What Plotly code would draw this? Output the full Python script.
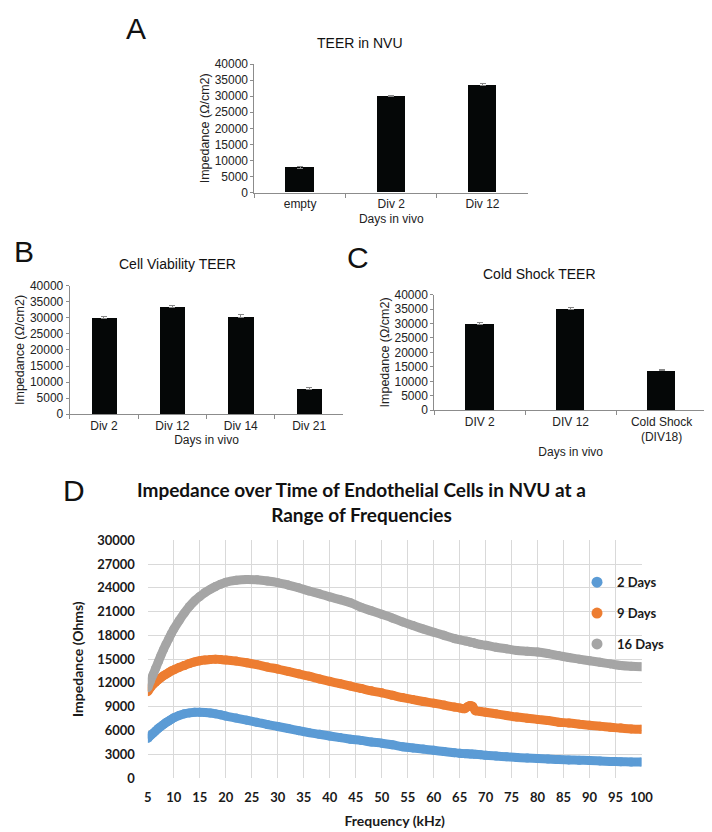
"""Four-panel TEER / impedance figure (A-C bar charts, D frequency sweep)."""

import plotly.graph_objects as go

# ---- data -----------------------------------------------------------------
A_CATS = ["empty", "Div 2", "Div 12"]
A_VALS = [7800, 30000, 33500]
A_ERR = [200, 250, 300]

B_CATS = ["Div 2", "Div 12", "Div 14", "Div 21"]
B_VALS = [30000, 33500, 30500, 8000]
B_ERR = [300, 300, 500, 250]

C_CATS = ["DIV 2", "DIV 12", "Cold Shock<br>(DIV18)"]
C_VALS = [30000, 35300, 13900]
C_ERR = [350, 350, 300]

FREQ_KHZ = [5, 5.5, 6, 6.5, 7, 7.5, 8, 8.5, 9, 9.5, 10, 11, 12, 13, 14, 15, 16,
            17, 18, 19, 20, 22, 24, 26, 28, 30, 32, 34, 36, 38, 40, 42, 44, 46,
            48, 50, 52, 54, 56, 58, 60, 62, 64, 65, 66, 66.5, 67, 67.5, 68, 69,
            70, 72, 74, 76, 78, 80, 82, 84, 86, 88, 90, 92, 94, 96, 98, 100]

DAYS_2 = [5000, 5350, 5650, 5950, 6250, 6500, 6750, 7000, 7200, 7400, 7600,
          7900, 8100, 8220, 8300, 8300, 8260, 8200, 8100, 7980, 7820, 7560,
          7300, 7030, 6750, 6500, 6250, 5980, 5730, 5520, 5300, 5100, 4900,
          4750, 4550, 4400, 4200, 3950, 3800, 3650, 3500, 3350, 3200, 3130,
          3080, 3060, 3040, 3020, 3000, 2950, 2880, 2780, 2680, 2580, 2520,
          2470, 2400, 2330, 2290, 2250, 2220, 2160, 2100, 2060, 2030, 2010]

DAYS_9 = [10900, 11400, 11800, 12100, 12400, 12650, 12900, 13100, 13300,
          13500, 13650, 13950, 14200, 14450, 14650, 14800, 14900, 14950,
          15000, 14950, 14900, 14750, 14550, 14300, 14000, 13750, 13450,
          13150, 12850, 12500, 12200, 11900, 11600, 11300, 11000, 10750,
          10450, 10150, 9900, 9650, 9450, 9200, 8950, 8850, 8750, 9000, 9150,
          9050, 8500, 8400, 8300, 8100, 7900, 7700, 7550, 7400, 7250, 7050,
          6950, 6800, 6650, 6550, 6400, 6300, 6200, 6150]

DAYS_16 = [11400, 12250, 13050, 13850, 14650, 15450, 16200, 16900, 17550,
           18200, 18800, 19850, 20800, 21650, 22350, 22900, 23400, 23800,
           24150, 24450, 24700, 24950, 25050, 25000, 24850, 24650, 24350,
           24000, 23600, 23250, 22850, 22500, 22100, 21550, 21100, 20650,
           20200, 19700, 19250, 18800, 18400, 18000, 17600, 17450, 17300,
           17250, 17150, 17100, 17000, 16850, 16750, 16500, 16300, 16100,
           16000, 15900, 15700, 15450, 15200, 15000, 14800, 14600, 14400,
           14200, 14100, 14050]

SERIES = [("2 Days", DAYS_2, "#5b9bd5"),
          ("9 Days", DAYS_9, "#ed7d31"),
          ("16 Days", DAYS_16, "#a5a5a5")]

W, H = 712, 832
ARIAL = "Liberation Sans, Arial, sans-serif"
CALIBRI = "Lato, Open Sans, sans-serif"


def px_x(x0, x1):
    return [x0 / W, x1 / W]


def px_y(top, bottom):
    return [1 - bottom / H, 1 - top / H]


fig = go.Figure()

# ---- bar panels -----------------------------------------------------------
bar_panels = [
    ("x", "y", A_CATS, A_VALS, A_ERR, 0.31),
    ("x2", "y2", B_CATS, B_VALS, B_ERR, 0.37),
    ("x3", "y3", C_CATS, C_VALS, C_ERR, 0.31),
]
for xa, ya, cats, vals, errs, bw in bar_panels:
    fig.add_trace(go.Bar(
        x=cats, y=vals, xaxis=xa, yaxis=ya, width=bw,
        marker=dict(color="#050707", line=dict(width=0)),
        error_y=dict(type="data", array=errs, color="#888888",
                     thickness=1, width=3),
        showlegend=False,
    ))

# ---- frequency sweep ------------------------------------------------------
for name, vals, color in SERIES:
    fig.add_trace(go.Scatter(
        x=FREQ_KHZ, y=vals, xaxis="x4", yaxis="y4", mode="lines+markers",
        line=dict(color=color, width=9, shape="spline"),
        marker=dict(color=color, size=9),
        showlegend=False, hoverinfo="x+y",
    ))
for name, vals, color in SERIES:
    fig.add_trace(go.Scatter(
        x=[None], y=[None], xaxis="x4", yaxis="y4", mode="markers",
        marker=dict(color=color, size=11), name=name,
        legendgroup=name,
    ))

bar_x = dict(
    type="category", showline=True, linecolor="#8c8c8c", linewidth=1,
    ticks="outside", tickson="boundaries", ticklen=4, tickcolor="#8c8c8c",
    showgrid=False, tickfont=dict(family=ARIAL, size=12, color="#222"),
    title=dict(text="Days in vivo", font=dict(family=ARIAL, size=12,
                                                  color="#222"), standoff=4),
)
bar_y = dict(
    range=[0, 40000], dtick=5000, tickformat="d", showline=True,
    linecolor="#8c8c8c", linewidth=1, ticks="outside", ticklen=3,
    tickcolor="#8c8c8c", showgrid=False, zeroline=False,
    tickfont=dict(family=ARIAL, size=12, color="#222"),
    title=dict(text="Impedance (Ω/cm2)", font=dict(family=ARIAL, size=12.5,
                                                       color="#222"),
               standoff=2),
)

fig.update_layout(
    width=W, height=H, margin=dict(l=0, r=0, t=0, b=0),
    paper_bgcolor="white", plot_bgcolor="white", bargap=0,
    xaxis=dict(bar_x, domain=px_x(248, 528), anchor="y"),
    yaxis=dict(bar_y, domain=px_y(49, 180), anchor="x"),
    xaxis2=dict(bar_x, domain=px_x(59, 339), anchor="y2"),
    yaxis2=dict(bar_y, domain=px_y(275, 406), anchor="x2"),
    xaxis3=dict(bar_x, domain=px_x(432, 711), anchor="y3"),
    yaxis3=dict(bar_y, domain=px_y(284, 402), anchor="x3"),
    xaxis4=dict(
        domain=px_x(139, 644), anchor="y4", range=[5, 100], tick0=5, dtick=5,
        showgrid=True, gridcolor="#d9d9d9", gridwidth=1, zeroline=False,
        showline=False, ticks="", ticklabelstandoff=10,
        tickfont=dict(family=CALIBRI, size=13, color="#1a1a1a",
                      weight="bold"),
        title=dict(text="Frequency (kHz)", standoff=12,
                   font=dict(family=CALIBRI, size=14, color="#1a1a1a",
                             weight="bold")),
    ),
    yaxis4=dict(
        domain=px_y(534.5, 777), anchor="x4", range=[0, 30000], dtick=3000,
        tickformat="d",
        showgrid=True, gridcolor="#d9d9d9", gridwidth=1, zeroline=False,
        showline=False, ticks="", ticklabelstandoff=12,
        tickfont=dict(family=CALIBRI, size=13, color="#1a1a1a",
                      weight="bold"),
        title=dict(text="Impedance (Ohms)", standoff=10,
                   font=dict(family=CALIBRI, size=14, color="#1a1a1a",
                             weight="bold")),
    ),
    legend=dict(
        x=578 / W, y=1 - 562 / H, xanchor="left", yanchor="top",
        bgcolor="rgba(0,0,0,0)", tracegroupgap=11,
        font=dict(family=CALIBRI, size=13, color="#1a1a1a", weight="bold"),
    ),
)

# panel titles and letters
notes = [
    ("TEER in NVU", 356, 28, ARIAL, 14, "normal"),
    ("Cell Viability TEER", 169, 253, ARIAL, 14, "normal"),
    ("Cold Shock TEER", 540, 263, ARIAL, 14, "normal"),
    ("Impedance over Time of Endothelial Cells in NVU at a<br>"
     "Range of Frequencies", 358, 496, CALIBRI, 19, "bold"),
    ("A", 127, 13, ARIAL, 30, "normal"),
    ("B", 12, 240, ARIAL, 30, "normal"),
    ("C", 354, 246, ARIAL, 30, "normal"),
    ("D", 63, 484, ARIAL, 30, "normal"),
]
for text, x, y, fam, size, weight in notes:
    fig.add_annotation(
        text=text, x=x / W, y=1 - y / H, xref="paper", yref="paper",
        showarrow=False, xanchor="center", yanchor="middle",
        font=dict(family=fam, size=size, color="#111", weight=weight),
    )

fig.write_html("out.html")
